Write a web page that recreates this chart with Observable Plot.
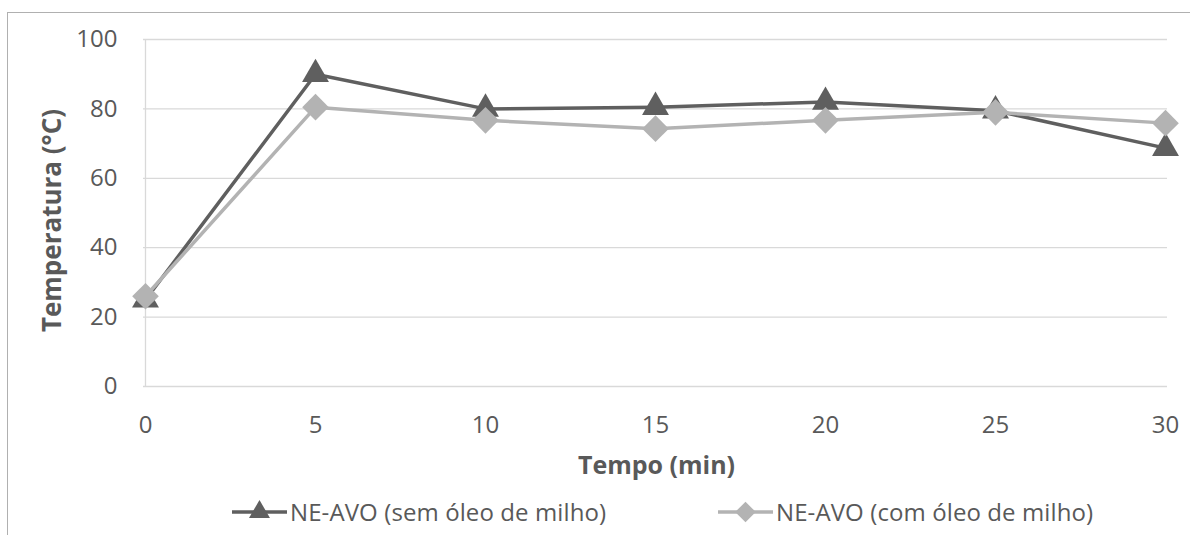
<!DOCTYPE html>
<html><head><meta charset="utf-8">
<script src="https://cdn.jsdelivr.net/npm/d3@7"></script>
<script src="https://cdn.jsdelivr.net/npm/@observablehq/plot@0.6"></script>
<style>
html,body{margin:0;padding:0;background:#fff;overflow:hidden;width:1190px;height:535px;}
#wrap{position:relative;width:1190px;height:535px;font-family:"Open Sans",sans-serif;}
#frame{position:absolute;left:7px;top:12px;width:1300px;height:700px;border:1.3px solid #b0b0b0;box-sizing:border-box;}
#chart{position:absolute;left:0;top:0;}
.leg{position:absolute;top:497px;height:30px;display:flex;align-items:center;color:#595959;font-size:24px;line-height:30px;font-family:"Open Sans",sans-serif;letter-spacing:0.1px;white-space:nowrap;}
.leg svg{margin-right:2px;}
</style></head>
<body><div id="wrap"><div id="frame"></div><div id="chart"></div>
<div class="leg" id="leg1" style="left:232px"></div>
<div class="leg" id="leg2" style="left:718px"></div>
</div>
<script>
const tempos = ["0","5","10","15","20","25","30"];
const semOleo = [25, 90, 80, 80.5, 82, 79.5, 68.7];
const comOleo = [26, 80.5, 76.7, 74.3, 76.7, 79, 75.9];
const yTicks = [0, 20, 40, 60, 80, 100];
const seriesNames = ["NE-AVO (sem óleo de milho)", "NE-AVO (com óleo de milho)"];
const colors = ["#5f5f5f", "#b3b3b3"];

const data = [];
tempos.forEach((t, i) => {
  data.push({t, v: semOleo[i], s: seriesNames[0]});
  data.push({t, v: comOleo[i], s: seriesNames[1]});
});
const d0 = data.filter(d => d.s === seriesNames[0]);
const d1 = data.filter(d => d.s === seriesNames[1]);

const plot = Plot.plot({
  width: 1190,
  height: 490,
  marginTop: 39,
  marginBottom: 104,
  marginLeft: 143,
  marginRight: 23,
  style: {fontFamily: "Open Sans, sans-serif", color: "#595959", background: "transparent", overflow: "visible"},
  x: {type: "point", domain: tempos, padding: 0},
  y: {domain: [0, 100]},
  marks: [
    Plot.gridY(yTicks, {stroke: "#d9d9d9", strokeOpacity: 1, strokeWidth: 1.3}),
    Plot.ruleX([tempos[0]], {stroke: "#d9d9d9", strokeWidth: 1.3}),
    Plot.axisY(yTicks, {tickSize: 0, tickPadding: 26, fontSize: 24, fill: "#595959", label: null}),
    Plot.axisX(tempos, {tickSize: 0, tickPadding: 29, fontSize: 24, fill: "#595959", label: null}),
    Plot.text(["Tempo (min)"], {frameAnchor: "bottom", textAnchor: "middle", lineAnchor: "middle", dx: 1, dy: 79, fontSize: 25, fontWeight: "bold", fill: "#595959", letterSpacing: 0.9}),
    Plot.text(["Temperatura (°C)"], {frameAnchor: "left", textAnchor: "middle", lineAnchor: "middle", dx: -91, dy: 7.5, rotate: -90, fontSize: 26, fontWeight: "bold", fill: "#595959", letterSpacing: 0.2}),
    Plot.line(d0, {x: "t", y: "v", stroke: colors[0], strokeWidth: 3.5}),
    Plot.dot(d0, {x: "t", y: "v", symbol: "triangle", r: 10, fill: colors[0], stroke: "none"}),
    Plot.line(d1, {x: "t", y: "v", stroke: colors[1], strokeWidth: 3.5}),
    Plot.dot(d1, {x: "t", y: "v", symbol: "diamond2", r: 12, fill: colors[1], stroke: "none"}),
  ]
});
document.getElementById("chart").appendChild(plot);

function legendItem(el, name, color, symbol, size) {
  const svgNS = "http://www.w3.org/2000/svg";
  const svg = document.createElementNS(svgNS, "svg");
  svg.setAttribute("width", 56); svg.setAttribute("height", 30);
  const line = document.createElementNS(svgNS, "line");
  line.setAttribute("x1", 0); line.setAttribute("x2", 55);
  line.setAttribute("y1", 15); line.setAttribute("y2", 15);
  line.setAttribute("stroke", color); line.setAttribute("stroke-width", 3.5);
  svg.appendChild(line);
  const p = document.createElementNS(svgNS, "path");
  p.setAttribute("d", d3.symbol(symbol, size)());
  p.setAttribute("transform", "translate(27.5,15)");
  p.setAttribute("fill", color);
  svg.appendChild(p);
  el.appendChild(svg);
  const span = document.createElement("span");
  span.textContent = name;
  el.appendChild(span);
}
legendItem(document.getElementById("leg1"), seriesNames[0], colors[0], d3.symbolTriangle, 190);
legendItem(document.getElementById("leg2"), seriesNames[1], colors[1], d3.symbolDiamond2, 270);
</script></body></html>
